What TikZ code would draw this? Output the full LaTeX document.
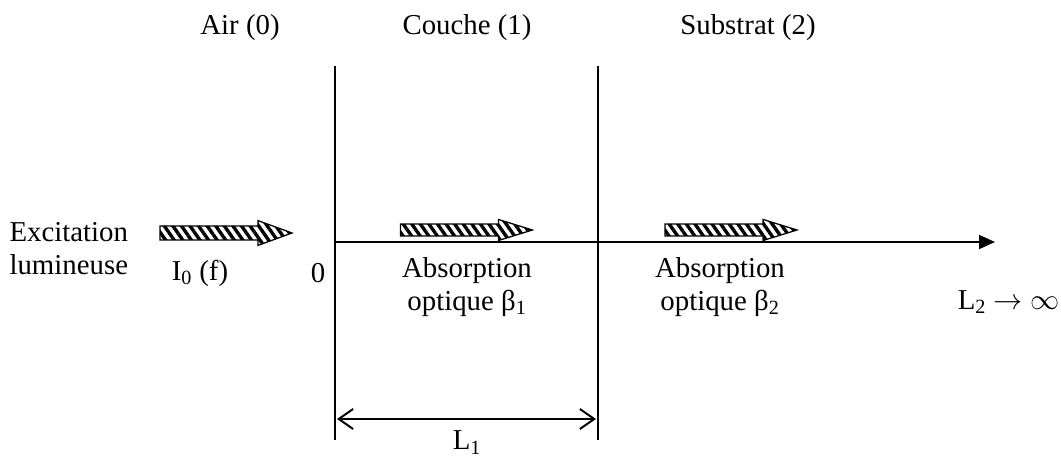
\documentclass[tikz,border=0pt]{standalone}
\usepackage{fontspec}
\setmainfont{Liberation Serif}
\usetikzlibrary{positioning,patterns.meta,arrows.meta}

\tikzset{
  pics/hatcharrow/.style={code={
    \draw[line width=0.9pt, pattern={Lines[angle=-55,distance=5pt,line width=2.4pt]}]
      (-1.65,0.175) -- (0.8,0.175) -- (0.8,0.31) -- (1.65,0) -- (0.8,-0.31)
      -- (0.8,-0.175) -- (-1.65,-0.175) -- cycle;
  }}
}

\begin{document}
\begin{tikzpicture}[
  every node/.style={font=\fontsize{20.5}{23.5}\selectfont},
  txt/.style={align=center, inner sep=0pt},
  axis/.style={-{Triangle[length=0.4cm,width=0.35cm]}, line width=1.3pt},
  wall/.style={line width=0.8pt},
  dim/.style={{Straight Barb[length=0.36cm,width=0.5cm]}-{Straight Barb[length=0.36cm,width=0.5cm]},
              line width=1.4pt}
]
\useasboundingbox (0,0) rectangle (26.525,11.425);

% the three media
\node[txt] (air)      at (6.0,10.725)   {Air (0)};
\node[txt] (couche)   at (11.675,10.725) {Couche (1)};
\node[txt] (substrat) at (18.7,10.725)  {Substrat (2)};

% interfaces
\coordinate (w1top) at (8.375,9.775);
\coordinate (w1bot) at (8.375,0.425);
\coordinate (w2top) at (14.95,9.775);
\coordinate (w2bot) at (14.95,0.425);
\draw[wall] (w1top) -- (w1bot);
\draw[wall] (w2top) -- (w2bot);

% depth axis
\coordinate (O)   at (8.375,5.375);
\coordinate (end) at (24.875,5.375);
\draw[axis] (O) -- (end);

% incoming light and its travel through the layers
\pic (inc)  at (5.65,5.6)               {hatcharrow};
\pic (trv1) [yscale=0.85] at (11.66,5.675) {hatcharrow};
\pic (trv2) [yscale=0.85] at (18.275,5.675) {hatcharrow};

\node[txt] (excit)  at (1.72,5.2)   {Excitation\\lumineuse};
\node[txt] (izero)  at (5.0,4.6)    {I\textsubscript{0} (f)};
\node[txt] (origin) at (7.95,4.6)   {0};
\node[txt] (abs1)   at (11.675,4.25) {Absorption\\optique β\textsubscript{1}};
\node[txt] (abs2)   at (18.0,4.25)  {Absorption\\optique β\textsubscript{2}};
\node[txt] (linf)   at (25.22,3.875) {L\textsubscript{2} $\rightarrow\infty$};

% thickness of the layer
\coordinate (d1) at (8.425,0.95);
\coordinate (d2) at (14.9,0.95);
\draw[dim] (d1) -- (d2);
\node[txt] (lone) at (11.675,0.36) {L\textsubscript{1}};

\end{tikzpicture}
\end{document}
